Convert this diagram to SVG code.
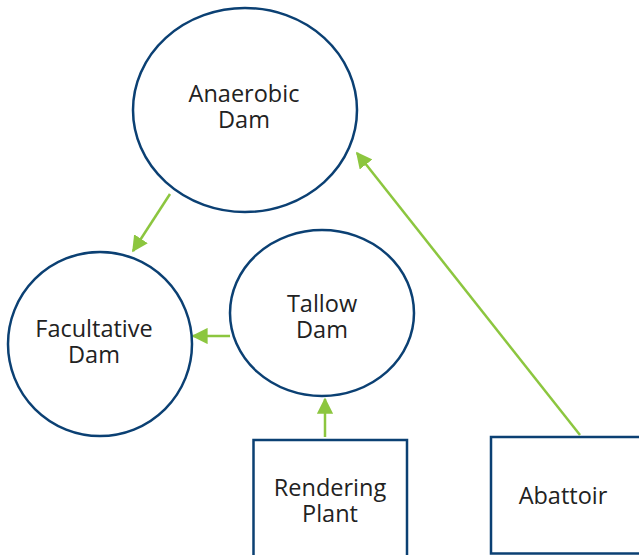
<svg xmlns="http://www.w3.org/2000/svg" width="639" height="555" viewBox="0 0 639 555">
<style>
.node{fill:#fff;stroke:#0b4073;stroke-width:2.5}
.lbl{font-family:"Open Sans","Noto Sans",sans-serif;font-size:23.5px;fill:#222;text-anchor:middle}
.conn{stroke:#8cc63f;stroke-width:2.5;fill:none}
</style>
<defs>
<marker id="ah" viewBox="0 0 10 10" refX="9" refY="5" markerWidth="6.5" markerHeight="6.5" markerUnits="strokeWidth" orient="auto">
<path d="M0,0 L10,5 L0,10 Z" fill="#8cc63f"/>
</marker>
</defs>
<rect width="639" height="555" fill="#fff"/>
<g id="connectors">
<line class="conn" x1="170" y1="194" x2="133" y2="251" marker-end="url(#ah)"/>
<line class="conn" x1="230" y1="336" x2="193" y2="336" marker-end="url(#ah)"/>
<line class="conn" x1="325" y1="437" x2="325" y2="399" marker-end="url(#ah)"/>
<line class="conn" x1="580" y1="435" x2="357" y2="153" marker-end="url(#ah)"/>
</g>
<g id="anaerobic-dam">
<ellipse class="node" cx="245" cy="110" rx="112" ry="102"/>
<text class="lbl" x="244" y="102">Anaerobic</text>
<text class="lbl" x="244" y="128">Dam</text>
</g>
<g id="facultative-dam">
<ellipse class="node" cx="100" cy="344" rx="92" ry="92"/>
<text class="lbl" x="94" y="337">Facultative</text>
<text class="lbl" x="94" y="363">Dam</text>
</g>
<g id="tallow-dam">
<ellipse class="node" cx="322" cy="313" rx="92" ry="83"/>
<text class="lbl" x="322" y="312">Tallow</text>
<text class="lbl" x="322" y="338">Dam</text>
</g>
<g id="rendering-plant">
<rect class="node" x="253.5" y="440" width="153.5" height="130"/>
<text class="lbl" x="330" y="496">Rendering</text>
<text class="lbl" x="330" y="522">Plant</text>
</g>
<g id="abattoir">
<rect class="node" x="491" y="437" width="170" height="116.5"/>
<text class="lbl" x="563" y="504">Abattoir</text>
</g>
</svg>
